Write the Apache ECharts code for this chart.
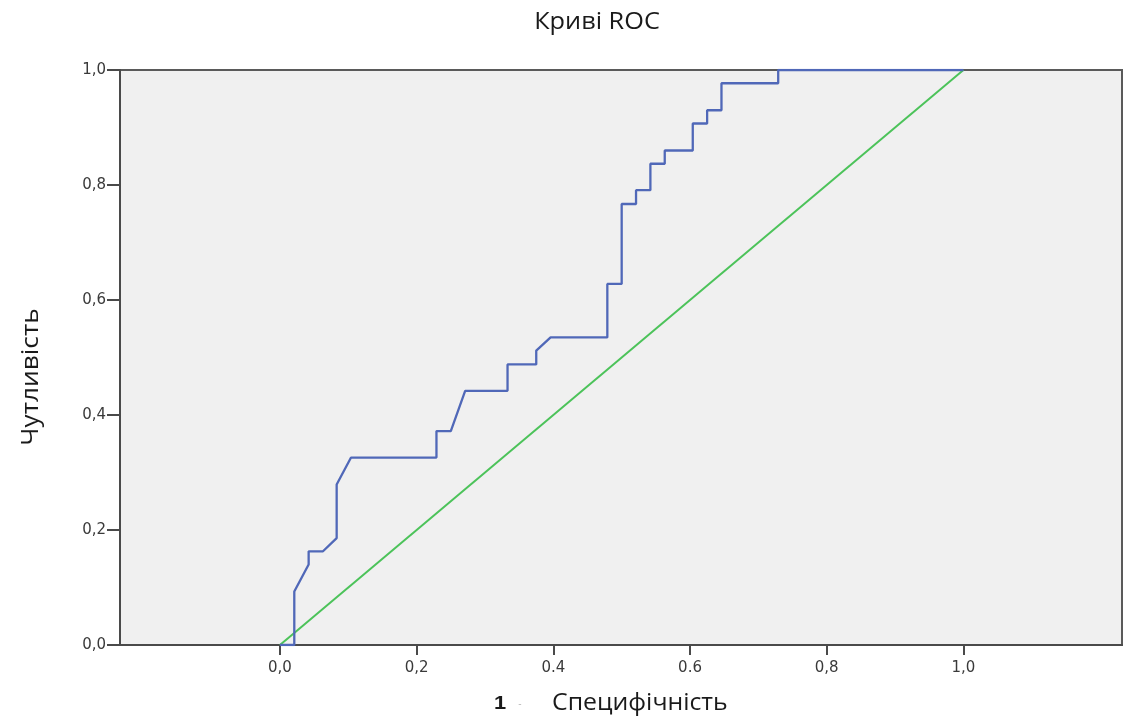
<!DOCTYPE html>
<html>
<head>
<meta charset="utf-8">
<script src="https://cdn.jsdelivr.net/npm/echarts@6/dist/echarts.min.js"></script>
<style>html,body{margin:0;padding:0;background:#fff}#c{width:1124px;height:717px}</style>
</head>
<body>
<div id="c"></div>
<script>
// ROC curve points (1 - specificity, sensitivity)
const rocFpr = [0, 0.021, 0.021, 0.042, 0.042, 0.063, 0.083, 0.083, 0.104, 0.229, 0.229, 0.250, 0.271, 0.333, 0.333, 0.375, 0.375, 0.396, 0.479, 0.479, 0.500, 0.500, 0.521, 0.521, 0.542, 0.542, 0.563, 0.563, 0.604, 0.604, 0.625, 0.625, 0.646, 0.646, 0.729, 0.729, 1.0];
const rocTpr = [0, 0, 0.093, 0.140, 0.163, 0.163, 0.186, 0.279, 0.326, 0.326, 0.372, 0.372, 0.442, 0.442, 0.488, 0.488, 0.512, 0.535, 0.535, 0.628, 0.628, 0.767, 0.767, 0.791, 0.791, 0.837, 0.837, 0.860, 0.860, 0.907, 0.907, 0.930, 0.930, 0.977, 0.977, 1.0, 1.0];
const refFpr = [0, 1];
const refTpr = [0, 1];
const xTickValues = [0, 0.2, 0.4, 0.6, 0.8, 1.0];
const xTickLabels = ['0,0', '0,2', '0.4', '0.6', '0,8', '1,0'];
const yTickValues = [0, 0.2, 0.4, 0.6, 0.8, 1.0];
const yTickLabels = ['0,0', '0,2', '0,4', '0,6', '0,8', '1,0'];
const titleText = 'Криві ROC';
const yName = 'Чутливість';
const xNameNum = '1';
const xNameSep = '-';
const xNameText = 'Специфічність';

const chart = echarts.init(document.getElementById('c'), null, {renderer: 'canvas'});
const labelFont = {fontFamily: 'DejaVu Sans, sans-serif', fontSize: 15, color: '#3a3a3a'};
chart.setOption({
  animation: false,
  grid: {left: 120, right: 2, top: 70, bottom: 72, show: true, backgroundColor: '#f0f0f0', borderColor: '#5a5a5a', borderWidth: 2},
  xAxis: {
    type: 'value', min: -0.234, max: 1.232,
    splitLine: {show: false},
    axisLine: {show: true, onZero: false, lineStyle: {color: '#4a4a4a', width: 2}},
    axisTick: {show: true, length: 10, customValues: xTickValues, lineStyle: {color: '#4a4a4a', width: 2}},
    axisLabel: Object.assign({show: true, margin: 16, customValues: xTickValues,
      formatter: v => { const i = xTickValues.findIndex(t => Math.abs(t - v) < 1e-6); return i >= 0 ? xTickLabels[i] : ''; }}, labelFont)
  },
  yAxis: {
    type: 'value', min: 0, max: 1,
    splitLine: {show: false},
    axisLine: {show: true, onZero: false, lineStyle: {color: '#4a4a4a', width: 2}},
    axisTick: {show: true, length: 13, customValues: yTickValues, lineStyle: {color: '#4a4a4a', width: 2}},
    axisLabel: Object.assign({show: true, margin: 14, customValues: yTickValues,
      formatter: v => { const i = yTickValues.findIndex(t => Math.abs(t - v) < 1e-6); return i >= 0 ? yTickLabels[i] : ''; }}, labelFont)
  },
  series: [
    {type: 'line', data: refFpr.map((x, i) => [x, refTpr[i]]), showSymbol: false, lineStyle: {color: '#4cc35a', width: 2}, z: 2},
    {type: 'line', data: rocFpr.map((x, i) => [x, rocTpr[i]]), showSymbol: false, lineStyle: {color: '#5068b8', width: 2.3}, z: 3}
  ],
  graphic: [
    {type: 'text', x: 597, y: 22, scaleX: 1.1, style: {text: titleText, align: 'center', verticalAlign: 'middle', font: '23px "Open Sans", sans-serif', fill: '#1a1a1a'}},
    {type: 'text', x: 31, y: 377, rotation: Math.PI / 2, scaleX: 1.14, style: {text: yName, align: 'center', verticalAlign: 'middle', font: '23px "Open Sans", sans-serif', fill: '#1a1a1a'}},
    {type: 'text', x: 500, y: 704, scaleX: 1.15, style: {text: xNameNum, align: 'center', verticalAlign: 'middle', font: 'bold 19px "Liberation Sans", Arial, sans-serif', fill: '#1a1a1a'}},
    {type: 'text', x: 520, y: 704, style: {text: xNameSep, align: 'center', verticalAlign: 'middle', font: '10px "Liberation Sans", Arial, sans-serif', fill: '#bbb'}},
    {type: 'text', x: 552, y: 703, scaleX: 1.08, style: {text: xNameText, align: 'left', verticalAlign: 'middle', font: '23px "Open Sans", sans-serif', fill: '#1a1a1a'}}
  ]
});
</script>
</body>
</html>
